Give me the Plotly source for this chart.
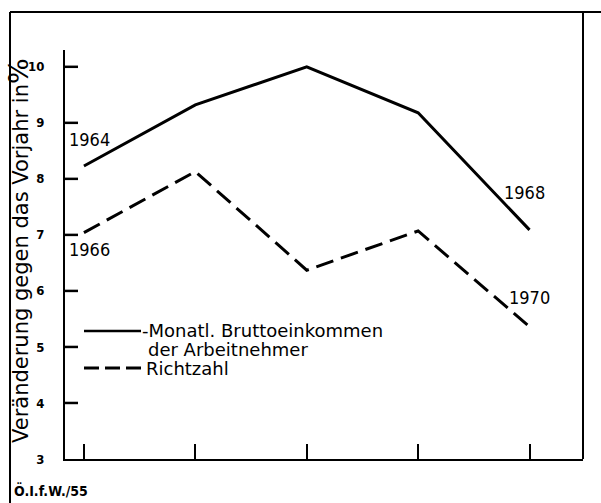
import plotly.graph_objects as go

# Data
x_pos = [0, 1, 2, 3, 4]
brutto = [8.23, 9.32, 10.0, 9.18, 7.09]      # Monatl. Bruttoeinkommen der Arbeitnehmer
richtzahl = [7.04, 8.13, 6.37, 7.07, 5.36]   # Richtzahl
brutto_years = ["1964", "1968"]
richt_years = ["1966", "1970"]
y_ticks = [3, 4, 5, 6, 7, 8, 9, 10]

FONT = "DejaVu Sans Condensed"
FONT_W = "DejaVu Sans"
W, H = 601, 503
L, R, T, B = 65, 18, 50, 44
pw, ph = W - L - R, H - T - B

def px(xp):
    return (xp - L) / pw

def py(yp):
    return (H - B - yp) / ph

fig = go.Figure()
fig.add_trace(go.Scatter(x=x_pos, y=brutto, mode="lines",
                         line=dict(color="black", width=3), showlegend=False, hoverinfo="skip"))
fig.add_trace(go.Scatter(x=x_pos, y=richtzahl, mode="lines",
                         line=dict(color="black", width=3, dash="18px,8px"), showlegend=False, hoverinfo="skip"))

ann = []
# year labels
ann.append(dict(x=x_pos[0], y=brutto[0], text=brutto_years[0], xanchor="left", yanchor="middle",
                xshift=-17, yshift=26, showarrow=False))
ann.append(dict(x=x_pos[-1], y=brutto[-1], text=brutto_years[1], xanchor="left", yanchor="middle",
                xshift=-28, yshift=37, showarrow=False))
ann.append(dict(x=x_pos[0], y=richtzahl[0], text=richt_years[0], xanchor="left", yanchor="middle",
                xshift=-17, yshift=-17, showarrow=False))
ann.append(dict(x=x_pos[-1], y=richtzahl[-1], text=richt_years[1], xanchor="left", yanchor="middle",
                xshift=-23, yshift=29, showarrow=False))
for a in ann:
    a["font"] = dict(family=FONT, size=18, color="black")

# legend text
LEG = dict(family=FONT_W, size=18, color="black")
ann.append(dict(xref="paper", yref="paper", x=px(141), y=py(330), text="-Monatl. Bruttoeinkommen",
                xanchor="left", yanchor="middle", showarrow=False, font=LEG, borderpad=0))
ann.append(dict(xref="paper", yref="paper", x=px(147), y=py(349), text="der Arbeitnehmer",
                xanchor="left", yanchor="middle", showarrow=False, font=LEG, borderpad=0))
ann.append(dict(xref="paper", yref="paper", x=px(145), y=py(368), text="Richtzahl",
                xanchor="left", yanchor="middle", showarrow=False, font=LEG, borderpad=0))
# axis title
ann.append(dict(xref="paper", yref="paper", x=px(18), y=py(251),
                text="Veränderung gegen das Vorjahr in<span style='font-size:27px'>%</span>",
                textangle=-90, xanchor="center", yanchor="middle", showarrow=False,
                font=dict(family=FONT_W, size=21, color="black")))
# source
ann.append(dict(xref="paper", yref="paper", x=px(12), y=py(490), text="<b>Ö.I.f.W./55</b>",
                xanchor="left", yanchor="middle", showarrow=False,
                font=dict(family=FONT, size=14, color="black")))

shapes = [
    # legend samples
    dict(type="line", xref="paper", yref="paper", x0=px(84), x1=px(141), y0=py(331), y1=py(331),
         line=dict(color="black", width=2.5)),
    dict(type="line", xref="paper", yref="paper", x0=px(84), x1=px(146), y0=py(368), y1=py(368),
         line=dict(color="black", width=3, dash="15px,6px")),
    # outer frame
    dict(type="line", xref="paper", yref="paper", x0=px(10), x1=px(601), y0=py(12), y1=py(12),
         line=dict(color="black", width=2)),
    dict(type="line", xref="paper", yref="paper", x0=px(10), x1=px(10), y0=py(12), y1=py(503),
         line=dict(color="black", width=2)),
    dict(type="line", xref="paper", yref="paper", x0=1, x1=1, y0=py(12), y1=0,
         line=dict(color="black", width=2)),
]
# inside tick marks of the y axis, at the tick values
for v in y_ticks[1:]:
    shapes.append(dict(type="line", xref="paper", yref="y",
                       x0=0, x1=13 / pw, y0=v, y1=v, line=dict(color="black", width=2.5)))

fig.update_layout(
    width=W, height=H,
    margin=dict(l=L, r=R, t=T, b=B),
    paper_bgcolor="white", plot_bgcolor="white",
    annotations=ann, shapes=shapes,
    showlegend=False,
    xaxis=dict(range=[-0.17, 4.48], tickvals=x_pos, ticks="inside", ticklen=15, tickwidth=2,
               tickcolor="black", showticklabels=False, showgrid=False, zeroline=False,
               showline=True, linecolor="black", linewidth=2),
    yaxis=dict(range=[3, 10.3], tickvals=y_ticks, ticktext=[str(v) for v in y_ticks],
               ticks="", showgrid=False, zeroline=False, showline=True, linecolor="black", linewidth=2,
               ticklabelstandoff=16,
               tickfont=dict(family=FONT, size=13, color="black", weight="bold")),
)

fig.write_html("out.html", config={"displayModeBar": False},
               post_script="document.body.style.margin='0';document.body.style.overflow='hidden';")
